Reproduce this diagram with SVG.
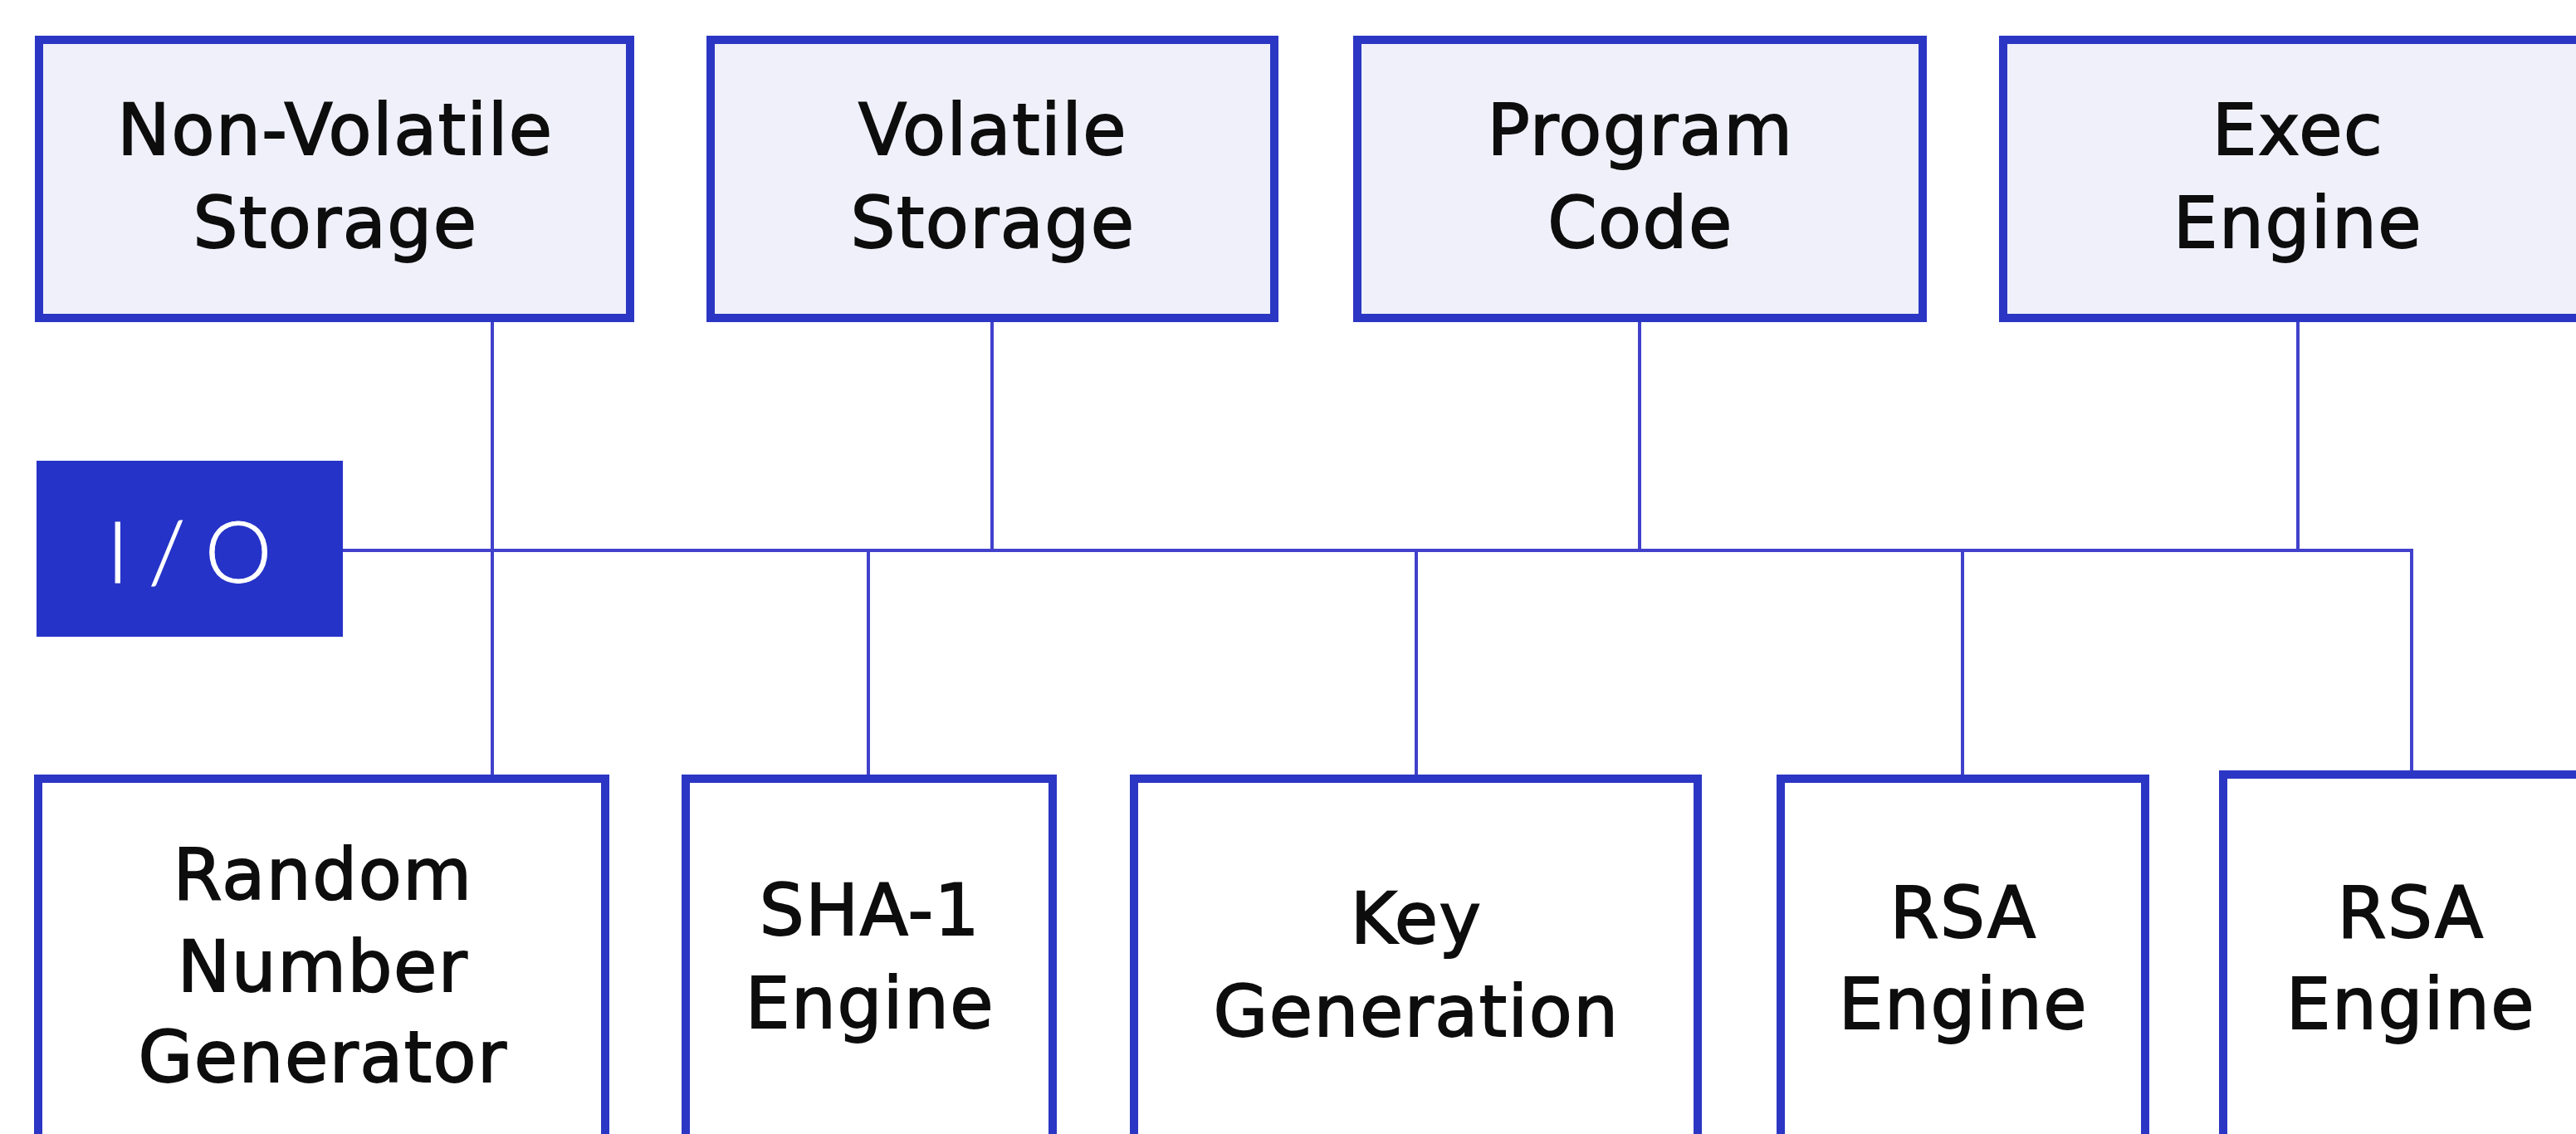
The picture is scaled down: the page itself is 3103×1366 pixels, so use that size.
<svg xmlns="http://www.w3.org/2000/svg" width="3103" height="1366" viewBox="0 0 3103 1366">
  <style>
    .box-top { fill: #eff0fa; stroke: #2b36c4; stroke-width: 10; }
    .box-bot { fill: #ffffff; stroke: #2b36c4; stroke-width: 10; }
    .io { fill: #2633c8; }
    .wire { stroke: #4141cc; stroke-width: 4; fill: none; stroke-linecap: butt; }
    .label { font-family: "DejaVu Sans", "Liberation Sans", sans-serif; font-size: 85px; fill: #0d0d0d; stroke: #0d0d0d; stroke-width: 1.8px; text-anchor: middle; letter-spacing: 1.5px; }
    .io-label { font-family: Lato, "Liberation Sans", sans-serif; font-weight: 300; font-size: 102px; fill: #ffffff; stroke: #ffffff; stroke-width: 1px; text-anchor: middle; letter-spacing: 24px; }
  </style>
  <rect width="3103" height="1366" fill="#ffffff"/>

  <!-- bus and branch wires -->
  <g id="connectors">
    <line class="wire" x1="410" y1="663" x2="2907" y2="663"/>
    <line class="wire" x1="593" y1="386" x2="593" y2="936"/>
    <line class="wire" x1="1195" y1="386" x2="1195" y2="663"/>
    <line class="wire" x1="1975" y1="386" x2="1975" y2="663"/>
    <line class="wire" x1="2768" y1="386" x2="2768" y2="663"/>
    <line class="wire" x1="1046" y1="663" x2="1046" y2="936"/>
    <line class="wire" x1="1706" y1="663" x2="1706" y2="936"/>
    <line class="wire" x1="2364" y1="663" x2="2364" y2="936"/>
    <line class="wire" x1="2905" y1="661" x2="2905" y2="931"/>
  </g>

  <!-- top row -->
  <g id="non-volatile-storage">
    <rect class="box-top" x="47" y="48" width="712" height="335"/>
    <text class="label" x="404" y="186">Non-Volatile</text>
    <text class="label" x="404" y="298">Storage</text>
  </g>
  <g id="volatile-storage">
    <rect class="box-top" x="856" y="48" width="679" height="335"/>
    <text class="label" x="1196" y="186">Volatile</text>
    <text class="label" x="1196" y="298">Storage</text>
  </g>
  <g id="program-code">
    <rect class="box-top" x="1635" y="48" width="681" height="335"/>
    <text class="label" x="1976" y="186">Program</text>
    <text class="label" x="1976" y="298">Code</text>
  </g>
  <g id="exec-engine">
    <rect class="box-top" x="2413" y="48" width="710" height="335"/>
    <text class="label" x="2768" y="186">Exec</text>
    <text class="label" x="2768" y="298">Engine</text>
  </g>

  <!-- I/O port -->
  <g id="io">
    <rect class="io" x="44" y="555" width="369" height="212"/>
    <text class="io-label" x="240" y="702">I/O</text>
  </g>

  <!-- bottom row -->
  <g id="random-number-generator">
    <rect class="box-bot" x="46" y="938" width="683" height="460"/>
    <text class="label" x="389" y="1083">Random</text>
    <text class="label" x="389" y="1194">Number</text>
    <text class="label" x="389" y="1303">Generator</text>
  </g>
  <g id="sha1-engine">
    <rect class="box-bot" x="826" y="938" width="442" height="460"/>
    <text class="label" x="1048" y="1126">SHA-1</text>
    <text class="label" x="1048" y="1238">Engine</text>
  </g>
  <g id="key-generation">
    <rect class="box-bot" x="1366" y="938" width="679" height="460"/>
    <text class="label" x="1706" y="1136">Key</text>
    <text class="label" x="1706" y="1248">Generation</text>
  </g>
  <g id="rsa-engine-1">
    <rect class="box-bot" x="2145" y="938" width="439" height="460"/>
    <text class="label" x="2365" y="1129">RSA</text>
    <text class="label" x="2365" y="1239">Engine</text>
  </g>
  <g id="rsa-engine-2">
    <rect class="box-bot" x="2678" y="933" width="450" height="460"/>
    <text class="label" x="2904" y="1129">RSA</text>
    <text class="label" x="2904" y="1239">Engine</text>
  </g>
</svg>
